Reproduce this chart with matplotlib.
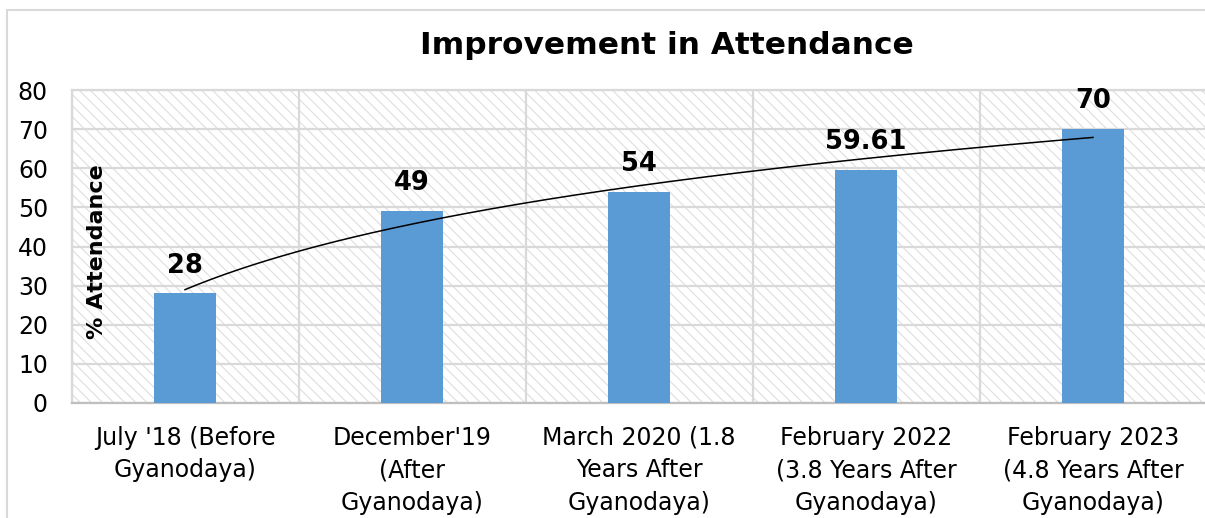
import numpy as np
import matplotlib.pyplot as plt
from matplotlib.patches import Rectangle

categories = ["July '18 (Before\nGyanodaya)",
              "December'19\n(After\nGyanodaya)",
              "March 2020 (1.8\nYears After\nGyanodaya)",
              "February 2022\n(3.8 Years After\nGyanodaya)",
              "February 2023\n(4.8 Years After\nGyanodaya)"]
attendance = [28, 49, 54, 59.61, 70]
value_labels = ["28", "49", "54", "59.61", "70"]
yticks = [0, 10, 20, 30, 40, 50, 60, 70, 80]

plt.rcParams['font.family'] = ['DejaVu Sans']
plt.rcParams['hatch.linewidth'] = 0.8
grid_col = '#d9d9d9'
bar_col = '#5b9bd5'

fig = plt.figure(figsize=(12.05, 5.18), dpi=100)
ax = fig.add_axes([71.5 / 1205, 1 - 403 / 518, (1206.5 - 71.5) / 1205, (403 - 90) / 518])

# hatched plot area background
ax.patch.set_facecolor('white')
bg = Rectangle((0, 0), 1, 1, transform=ax.transAxes, facecolor='white',
               edgecolor='#dedede', hatch='\\\\\\', lw=0, zorder=0)
ax.add_patch(bg)

x = np.arange(len(categories))
ax.bar(x, attendance, width=0.27, color=bar_col, zorder=3)

for xi, v, lab in zip(x, attendance, value_labels):
    ax.text(xi, v + 3.8, lab, ha='center', va='bottom', fontsize=18.5,
            fontweight='bold', color='black', zorder=5)

# logarithmic trend line
lx = np.log(x + 1)
b, a = np.polyfit(lx, attendance, 1)
xs = np.linspace(0, len(categories) - 1, 200)
ax.plot(xs, a + b * np.log(xs + 1), color='black', lw=1.1, zorder=4)

ax.set_xlim(-0.5, len(categories) - 0.5)
ax.set_ylim(0, 80)
ax.set_yticks(yticks)
ax.set_yticklabels([str(t) for t in yticks], fontsize=17)
ax.set_xticks(x)
ax.set_xticklabels(categories, fontsize=17, linespacing=1.45)
ax.set_xticks(np.arange(len(categories) + 1) - 0.5, minor=True)
ax.tick_params(axis='both', length=0, which='both')
ax.tick_params(axis='y', pad=17)
ax.tick_params(axis='x', pad=16.5)

ax.set_axisbelow(True)
ax.yaxis.grid(True, color=grid_col, lw=1.6, zorder=1)
ax.xaxis.grid(True, which='minor', color=grid_col, lw=1.6, zorder=1)
for s in ['top', 'left', 'right']:
    ax.spines[s].set_color(grid_col)
    ax.spines[s].set_linewidth(1.6)
ax.spines['bottom'].set_color('#bfbfbf')
ax.spines['bottom'].set_linewidth(1.6)

fig.text(97 / 1205, 1 - 252 / 518, '% Attendance', rotation=90, ha='center',
         va='center', fontsize=16, fontweight='bold')
fig.text(667 / 1205, 1 - 46 / 518, 'Improvement in Attendance', ha='center',
         va='center', fontsize=22.5, fontweight='bold')

# chart border
fig.add_artist(Rectangle((7 / 1205, -0.1), 2, 1.1 - 10 / 518,
                         transform=fig.transFigure, fill=False,
                         edgecolor=grid_col, lw=1.5))

fig.savefig('out.png', dpi=100)
